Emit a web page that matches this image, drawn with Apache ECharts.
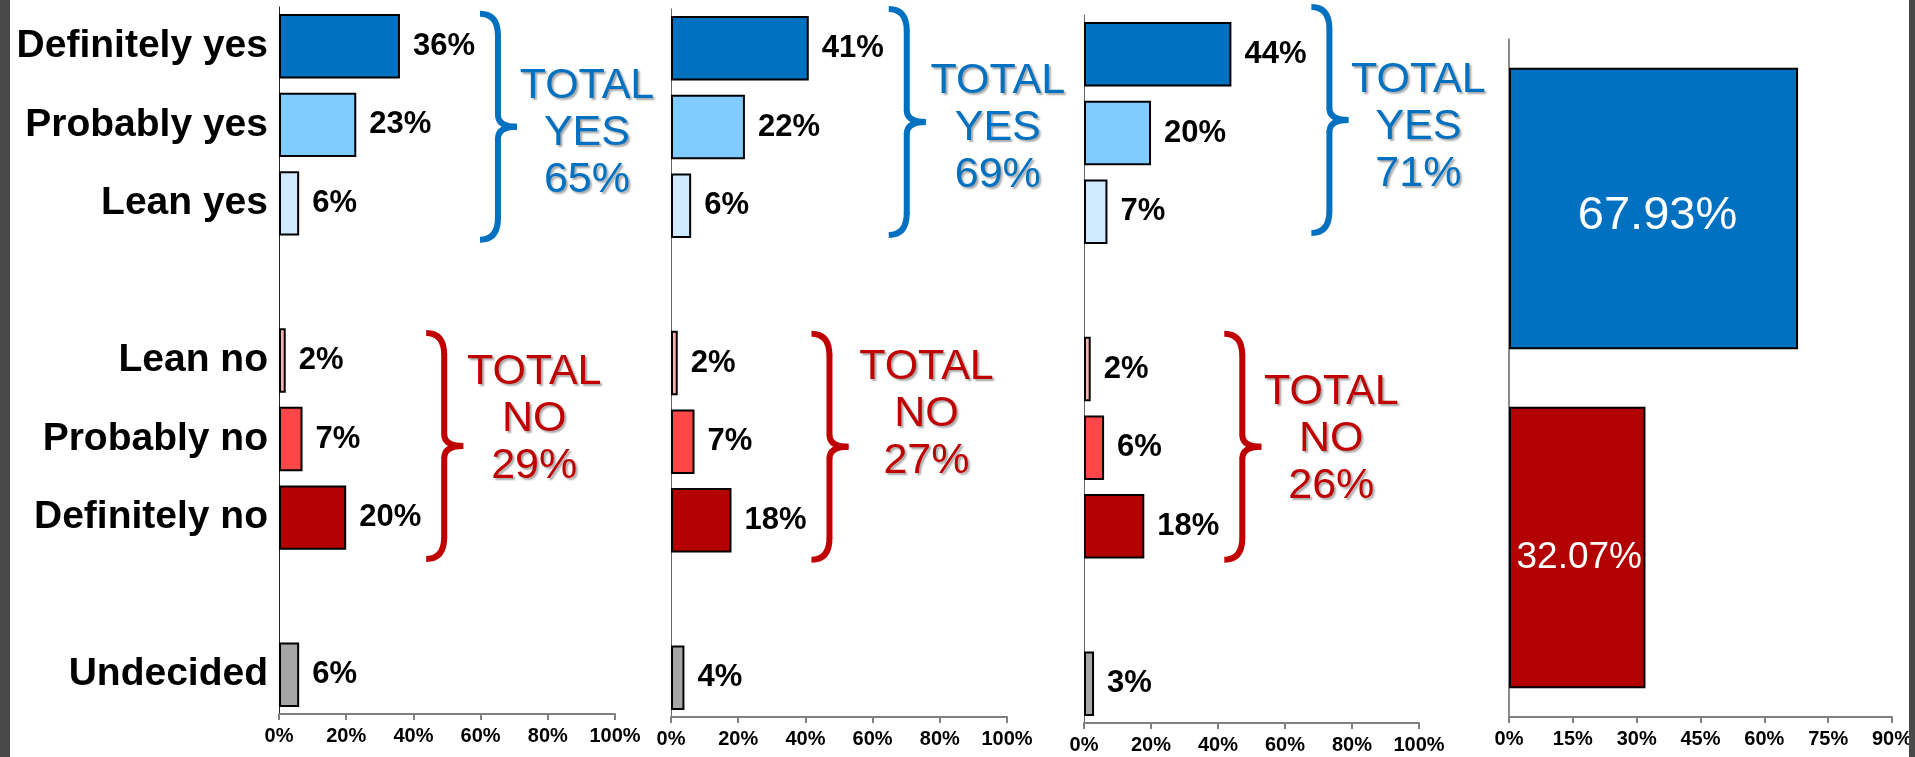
<!DOCTYPE html>
<html>
<head>
<meta charset="utf-8">
<script src="https://cdn.jsdelivr.net/npm/echarts@6/dist/echarts.min.js"></script>
<style>
html,body{margin:0;padding:0;background:#fff;}
#chart{width:1915px;height:757px;}
</style>
</head>
<body>
<div id="chart"></div>
<script>
// ---- data ----
const categories = ['Definitely yes','Probably yes','Lean yes',' ','Lean no','Probably no','Definitely no','  ','Undecided'];
const wave1 = [36, 23, 6, null, 2, 7, 20, null, 6];
const wave2 = [41, 22, 6, null, 2, 7, 18, null, 4];
const wave3 = [44, 20, 7, null, 2, 6, 18, null, 3];
const totalYes = [65, 69, 71];
const totalNo = [29, 27, 26];
const overallCats = ['Yes', 'No'];
const overallValues = [67.93, 32.07];
const waveAxisMax = 100, waveAxisStep = 20;
const overallAxisMax = 90, overallAxisStep = 15;

// ---- styles ----
const FONT = '"Liberation Sans", Arial, Helvetica, sans-serif';
const catColors = ['#0070C0','#80CBFF','#CFEAFF','#fff','#FFB2B2','#FF4747','#B30000','#fff','#A6A6A6'];
const overallColors = ['#0070C0','#B30000'];
const BLUE = '#0070C0', RED = '#C00000';

const grids = [
  {left: 279, width: 336, top: 7, height: 707},
  {left: 671, width: 336, top: 9, height: 708},
  {left: 1084, width: 335, top: 15, height: 708},
  {left: 1509, width: 393, top: 39, height: 678}
];

const waves = [wave1, wave2, wave3];

const option = {
  animation: false,
  backgroundColor: '#fff',
  grid: grids.map(g => Object.assign({containLabel: false}, g)),
  xAxis: grids.map((g, i) => ({
    type: 'value',
    gridIndex: i,
    min: 0,
    max: i < 3 ? waveAxisMax : overallAxisMax,
    interval: i < 3 ? waveAxisStep : overallAxisStep,
    splitLine: {show: false},
    axisLine: {show: true, lineStyle: {color: '#808080', width: 2}},
    axisTick: {show: true, length: 6, lineStyle: {color: '#808080', width: 2}},
    axisLabel: {
      formatter: '{value}%', color: '#000', fontWeight: 'bold', fontSize: 20,
      fontFamily: FONT, margin: 12, showMaxLabel: true
    }
  })),
  yAxis: grids.map((g, i) => ({
    type: 'category',
    gridIndex: i,
    inverse: true,
    data: i < 3
      ? categories.map(c => c === 'Undecided' ? {value: c, textStyle: {padding: [0, 0, 26, 0]}} : c)
      : overallCats,
    axisLine: {show: true, lineStyle: {color: i === 0 ? '#222' : '#666', width: i === 3 ? 1.5 : 1}},
    axisTick: {show: false},
    axisLabel: {
      show: i === 0, color: '#000', fontWeight: 'bold', fontSize: 39,
      fontFamily: FONT, margin: 11
    }
  })),
  series: [
    ...waves.map((w, i) => ({
      type: 'bar',
      xAxisIndex: i,
      yAxisIndex: i,
      barWidth: '82%',
      data: w.map((v, k) => v == null ? null : {
        value: v,
        itemStyle: {color: catColors[k], borderColor: '#000', borderWidth: 2}
      }),
      label: {
        show: true, position: 'right', distance: 13,
        formatter: p => p.value + '%',
        color: '#000', fontWeight: 'bold', fontSize: 31, fontFamily: FONT
      }
    })),
    {
      type: 'bar',
      xAxisIndex: 3,
      yAxisIndex: 3,
      barWidth: '83%',
      data: overallValues.map((v, k) => ({
        value: v,
        itemStyle: {color: overallColors[k], borderColor: '#000', borderWidth: 2},
        label: {fontSize: k === 0 ? 47 : 37, offset: k === 0 ? [4, 8] : [2, 10]}
      })),
      label: {
        show: true, position: 'inside',
        formatter: p => p.value.toFixed(2) + '%',
        color: '#fff', fontWeight: 'normal', fontFamily: FONT
      }
    }
  ]
};

const chart = echarts.init(document.getElementById('chart'), null, {renderer: 'canvas'});
chart.setOption(option);

// ---- braces and total annotations, positioned from the axes ----
const braceDy = {yes: [2, -5, -13], no: [7, 5, -1]};
const textDy = {yes: [6, 6, 7], no: [-27, -33, -8]};
const textDx = {yes: [70, 72, 70], no: [71, 78, 70]};
const groups = [
  {key: 'yes', idx: [0, 1, 2], color: BLUE, word: 'YES', totals: totalYes},
  {key: 'no', idx: [4, 5, 6], color: RED, word: 'NO', totals: totalNo}
];
const graphics = [];
function braceParts(tip, spine, point, top, mid, bot, color) {
  const r = 22, m = 12;
  const st = {stroke: color, lineWidth: 6, fill: null, lineCap: 'butt'};
  const parts = [
    {type: 'bezierCurve', shape: {x1: tip, y1: top, cpx1: spine, cpy1: top, x2: spine, y2: top + r}},
    {type: 'line', shape: {x1: spine, y1: top + r - 1, x2: spine, y2: mid - m + 1}},
    {type: 'bezierCurve', shape: {x1: spine, y1: mid - m, cpx1: spine, cpy1: mid, x2: point, y2: mid}},
    {type: 'bezierCurve', shape: {x1: point, y1: mid, cpx1: spine, cpy1: mid, x2: spine, y2: mid + m}},
    {type: 'line', shape: {x1: spine, y1: mid + m - 1, x2: spine, y2: bot - r + 1}},
    {type: 'bezierCurve', shape: {x1: spine, y1: bot - r, cpx1: spine, cpy1: bot, x2: tip, y2: bot}}
  ];
  return parts.map(p => Object.assign(p, {style: Object.assign({}, st), z: 10}));
}
waves.forEach((w, i) => {
  groups.forEach(g => {
    const vals = g.idx.map(k => w[k]);
    const maxV = Math.max(...vals);
    const pMax = chart.convertToPixel({xAxisIndex: i, yAxisIndex: i}, [maxV, g.idx[1]]);
    const mid = pMax[1] + braceDy[g.key][i];
    const tip = pMax[0] + 80, spine = tip + 18, point = tip + 37;
    const half = 113;
    graphics.push(...braceParts(tip, spine, point, mid - half, mid, mid + half, g.color));
    graphics.push({
      type: 'text',
      x: point + textDx[g.key][i],
      y: mid + textDy[g.key][i],
      style: {
        text: 'TOTAL\n' + g.word + '\n' + g.totals[i] + '%',
        fill: g.color,
        fontSize: 43,
        fontFamily: FONT,
        lineHeight: 47,
        align: 'center',
        verticalAlign: 'middle',
        textShadowColor: 'rgba(0,0,0,0.35)',
        textShadowBlur: 2,
        textShadowOffsetX: 2,
        textShadowOffsetY: 2
      },
      z: 10
    });
  });
});
// dark side frame strips
graphics.push({type: 'rect', shape: {x: 0, y: 0, width: 10, height: 757}, style: {fill: '#494949'}, z: 100});
graphics.push({type: 'rect', shape: {x: 1909, y: 0, width: 6, height: 757}, style: {fill: '#494949'}, z: 100});
chart.setOption({graphic: graphics});
</script>
</body>
</html>
